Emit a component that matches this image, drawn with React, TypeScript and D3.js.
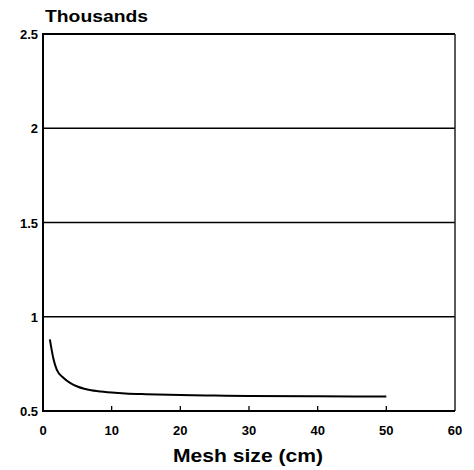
import React from "react";
import * as d3 from "d3";

const meshSizes = [1, 1.5, 2, 3, 4, 5, 6, 7, 8, 10, 12, 15, 20, 25, 30, 40, 50];
const values = [0.88, 0.78, 0.72, 0.675, 0.648, 0.63, 0.618, 0.61, 0.605, 0.598, 0.593, 0.589, 0.585, 0.582, 0.58, 0.578, 0.577];
const xTicks = [0, 10, 20, 30, 40, 50, 60];
const yTicks = [0.5, 1, 1.5, 2, 2.5];
const yTickLabels = ["0.5", "1", "1.5", "2", "2.5"];

export default function App() {
  const W = 474, H = 470;
  const left = 43, right = 455, top = 34, bottom = 411;
  const x = d3.scaleLinear().domain([0, 60]).range([left, right]);
  const y = d3.scaleLinear().domain([0.5, 2.5]).range([bottom, top]);
  const line = d3
    .line<number>()
    .x((_, i) => x(meshSizes[i]))
    .y((d) => y(d))
    .curve(d3.curveMonotoneX);
  const font = "'Liberation Sans', Arial, sans-serif";
  return (
    <svg width={W} height={H} style={{ position: "absolute", left: 0, top: 0 }} fontFamily={font}>
      <rect width={W} height={H} fill="#fff" />
      {yTicks.slice(1, -1).map((t) => (
        <line key={t} x1={left} x2={right} y1={y(t)} y2={y(t)} stroke="#000" strokeWidth={1.5} />
      ))}
      <line x1={left} x2={right} y1={top} y2={top} stroke="#000" strokeWidth={1.8} />
      <line x1={right} x2={right} y1={top} y2={bottom} stroke="#222" strokeWidth={1.5} />
      <line x1={left} x2={left} y1={top - 1} y2={bottom + 1} stroke="#000" strokeWidth={2} />
      <line x1={left - 1} x2={right} y1={bottom} y2={bottom} stroke="#000" strokeWidth={2} />
      {xTicks.slice(1, -1).map((t) => (
        <line key={t} x1={x(t)} x2={x(t)} y1={bottom} y2={bottom - 5} stroke="#000" strokeWidth={1.3} />
      ))}
      {yTicks.map((t, i) => (
        <text key={t} x={left - 5} y={y(t) + 5} textAnchor="end" fontSize={13} fontWeight="bold">
          {yTickLabels[i]}
        </text>
      ))}
      {xTicks.map((t) => (
        <text key={t} x={x(t)} y={435} textAnchor="middle" fontSize={13} fontWeight="bold">
          {t}
        </text>
      ))}
      <text x={45} y={22} fontSize={16} fontWeight="bold" textLength={103} lengthAdjust="spacingAndGlyphs">
        Thousands
      </text>
      <text x={173} y={462} fontSize={18} fontWeight="bold" textLength={150} lengthAdjust="spacingAndGlyphs">
        Mesh size (cm)
      </text>
      <path d={line(values) || ""} fill="none" stroke="#000" strokeWidth={2} />
    </svg>
  );
}
